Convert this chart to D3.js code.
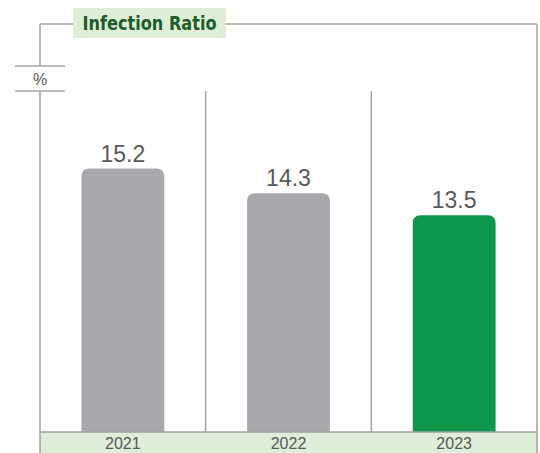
<!DOCTYPE html>
<html><head><meta charset="utf-8">
<script src="https://cdn.jsdelivr.net/npm/d3@7"></script>
<style>html,body{margin:0;padding:0;background:#fff;}svg{display:block;}</style>
</head><body>
<svg id="c" width="540" height="453"></svg>
<script>
const title = "Infection Ratio";
const unit = "%";
const categories = ["2021", "2022", "2023"];
const values = [15.2, 14.3, 13.5];
const highlight = ["2023"];

const W = 540, H = 453;
const frameL = 40, frameR = 537, frameT = 24, base = 432;
const lineCol = "#a3a3a3", textCol = "#58595b";
const svg = d3.select("#c");

const x = d3.scaleBand().domain(categories).range([frameL, frameR]).padding(0);
const y = d3.scaleLinear().domain([5.6, 15.2]).range([base, 168.5]);

// frame
const g = svg.append("g").attr("stroke", lineCol).attr("stroke-width", 1.5).attr("fill", "none");
g.append("line").attr("x1", frameL).attr("x2", frameR).attr("y1", frameT).attr("y2", frameT);
g.append("line").attr("x1", frameR).attr("x2", frameR).attr("y1", frameT).attr("y2", base);
g.append("line").attr("x1", frameL).attr("x2", frameL).attr("y1", frameT).attr("y2", 66);
g.append("line").attr("x1", frameL).attr("x2", frameL).attr("y1", 91).attr("y2", base);
g.append("line").attr("x1", 15).attr("x2", 65).attr("y1", 66).attr("y2", 66);
g.append("line").attr("x1", 15).attr("x2", 65).attr("y1", 91).attr("y2", 91);
categories.slice(1).forEach(c => {
  g.append("line").attr("x1", x(c)).attr("x2", x(c)).attr("y1", 91).attr("y2", base);
});

svg.append("text").attr("x", 40).attr("y", 84.5).attr("text-anchor", "middle")
  .attr("font-family", "Liberation Sans, Arial, sans-serif").attr("font-size", 16)
  .attr("fill", textCol).text(unit);

// title
svg.append("rect").attr("x", 73).attr("y", 8).attr("width", 153).attr("height", 30).attr("fill", "#deeed7");
svg.append("text").attr("x", 149.5).attr("y", 29.5).attr("text-anchor", "middle")
  .attr("font-family", "DejaVu Sans Condensed, DejaVu Sans, sans-serif")
  .attr("font-stretch", "condensed")
  .attr("font-weight", "bold").attr("font-size", 20).attr("fill", "#1d5c2b")
  .attr("textLength", 134).attr("lengthAdjust", "spacingAndGlyphs").text(title);

// bars
const bw = x.bandwidth() * 0.5, r = 8;
function barPath(x0, y0, w, h) {
  return `M${x0},${y0 + h}V${y0 + r}Q${x0},${y0} ${x0 + r},${y0}H${x0 + w - r}Q${x0 + w},${y0} ${x0 + w},${y0 + r}V${y0 + h}Z`;
}
categories.forEach((c, i) => {
  const cx = x(c) + x.bandwidth() / 2;
  const yt = y(values[i]);
  svg.append("path").attr("d", barPath(cx - bw / 2, yt, bw, base - yt))
    .attr("fill", highlight.includes(c) ? "#0f974d" : "#a8a9ac");
  svg.append("text").attr("x", cx).attr("y", yt - 7).attr("text-anchor", "middle")
    .attr("font-family", "Liberation Sans, Arial, sans-serif").attr("font-size", 23)
    .attr("fill", textCol).text(values[i].toFixed(1));
});

// bottom band
svg.append("rect").attr("x", frameL).attr("y", base).attr("width", frameR - frameL).attr("height", H - base + 2)
  .attr("fill", "#dfeed9").attr("stroke", lineCol).attr("stroke-width", 1.5);
categories.forEach(c => {
  svg.append("text").attr("x", x(c) + x.bandwidth() / 2).attr("y", 449).attr("text-anchor", "middle")
    .attr("font-family", "Liberation Sans, Arial, sans-serif").attr("font-size", 16)
    .attr("fill", textCol).text(c);
});
</script>
</body></html>
